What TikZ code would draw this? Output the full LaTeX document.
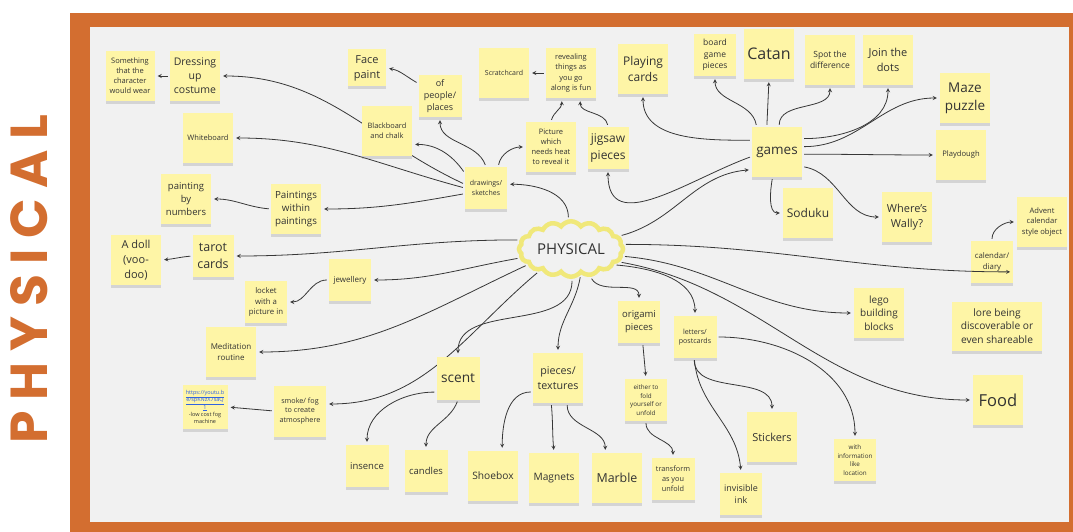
\documentclass[tikz,border=0pt]{standalone}
\usepackage{fontspec}
\setmainfont{Open Sans}
\newfontfamily\titlefont{Poppins}[LetterSpace=20]
\usepackage{tikz}
\usetikzlibrary{shapes.symbols, shadows, arrows}
\definecolor{notecol}{RGB}{254,245,166}
\definecolor{bgcol}{RGB}{241,241,241}
\definecolor{framecol}{RGB}{211,110,48}
\definecolor{cloudcol}{RGB}{240,232,122}
\definecolor{linecol}{RGB}{55,55,55}
\definecolor{linkcol}{RGB}{50,100,225}
\newcommand{\fs}[1]{\fontsize{#1}{1.35\dimexpr#1pt\relax}\selectfont}
\tikzstyle{arrow} = [->, >=stealth, line width=0.8pt, draw=linecol, shorten >=3pt, shorten <=2pt]
\tikzstyle{note} = [rectangle, fill=notecol, text=black!80, align=center, inner sep=1pt, minimum width=50pt, minimum height=50pt, drop shadow={shadow xshift=0pt, shadow yshift=-3pt, opacity=0.25}]
\tikzstyle{sticky} = [note, minimum width=42pt, minimum height=42pt]
\tikzstyle{hub} = [cloud, cloud puffs=16, cloud puff arc=110, aspect=2.2, draw=cloudcol, line width=4.5pt, fill=bgcol, text=black!80, inner sep=2pt, minimum width=98pt, minimum height=44pt]

\begin{document}
\begin{tikzpicture}[x=1pt, y=1pt]
		\useasboundingbox (0,0) rectangle (1073,-532);
		\fill [framecol] (70,-13) rectangle (1073,-532);
		\fill [bgcol] (90,-27) rectangle (1069,-522);
		\node (title) [rotate=90, text=framecol, font=\titlefont\bfseries\fontsize{52}{52}\selectfont] at (29,-279) {PHYSICAL};

		\node (physical) [hub, font=\fs{15}] at (571,-249) {PHYSICAL};

		\node (drawings) [sticky, font=\fs{7}] at (486,-188) {drawings/\\sketches};
		\draw [arrow] (physical.95) to [out=90, in=0] (drawings.10);
		\node (costume) [note, font=\fs{10.5}] at (195,-76) {Dressing\\up\\costume};
		\node (wear) [note, minimum width=49pt, font=\fs{7.5}] at (130,-76) {Something\\that the\\character\\would wear};
		\draw [arrow] (drawings.170) to [out=155, in=0] (costume.east);
		\draw [arrow] (costume.west) -- (wear.east);
		\node (whiteboard) [note, font=\fs{7.5}] at (208,-138) {Whiteboard};
		\draw [arrow] (drawings.180) to [out=165, in=0] (whiteboard.east);
		\node (paintings) [note, font=\fs{9.8}] at (296,-209) {Paintings\\within\\paintings};
		\node (numbers) [note, font=\fs{9.5}] at (186,-199) {painting\\by\\numbers};
		\draw [arrow] (drawings.195) to [out=190, in=0] (paintings.east);
		\draw [arrow] (paintings.west) to [out=175, in=0] (numbers.east);
		\node (blackboard) [note, font=\fs{7.4}] at (387,-131) {Blackboard\\and chalk};
		\draw [arrow] (drawings.145) to [out=125, in=0] (blackboard.-28);
		\node (people) [sticky, minimum width=43pt, font=\fs{9}] at (440,-96) {of\\people/\\places};
		\node (facepaint) [note, minimum width=38pt, minimum height=37pt, font=\fs{11}] at (367,-68) {Face\\paint};
		\draw [arrow] (drawings.north) to [out=110, in=-90] (people.south);
		\draw [arrow] (people.150) to [out=150, in=-10] (facepaint.east);
		\node (heat) [note, font=\fs{7.5}] at (551,-147) {Picture\\which\\needs heat\\to reveal it};
		\node (reveal) [note, font=\fs{7.5}] at (571,-73) {revealing\\things as\\you go\\along is fun};
		\node (scratch) [note, font=\fs{7}] at (504,-73) {Scratchcard};
		\draw [arrow] (drawings.60) to [out=80, in=180] (heat.west);
		\draw [arrow] (heat.north) to [out=75, in=-90] (reveal.250);
		\draw [arrow] (reveal.west) -- (scratch.east);

		\node (games) [note, font=\fs{13.5}] at (777,-152) {games};
		\draw [arrow] (physical.15) to [out=15, in=185] (games.215);
		\node (jigsaw) [sticky, minimum width=41pt, font=\fs{12}] at (608,-148) {jigsaw\\pieces};
		\draw [arrow] (games.190) to [out=200, in=-90, looseness=1.2] (jigsaw.south);
		\draw [arrow] (jigsaw.north) to [out=100, in=-90] (reveal.290);
		\node (playing) [note, font=\fs{12}] at (643,-69) {Playing\\cards};
		\draw [arrow] (games.155) to [out=180, in=-90] (playing.south);
		\node (board) [sticky, font=\fs{8.5}] at (715,-55) {board\\game\\pieces};
		\draw [arrow] (games.129) to [out=100, in=-90] (board.south);
		\node (catan) [note, font=\fs{16}] at (769,-54) {Catan};
		\draw [arrow] (games.112) -- (catan.south);
		\node (spot) [note, font=\fs{8.5}] at (830,-60) {Spot the\\difference};
		\draw [arrow] (games.85) to [out=90, in=-90] (spot.south);
		\node (dots) [note, font=\fs{11}] at (888,-60) {Join the\\dots};
		\draw [arrow] (games.28) to [out=0, in=-90] (dots.south);
		\node (maze) [note, font=\fs{13.5}] at (965,-98) {Maze\\puzzle};
		\draw [arrow] (games.12) to [out=0, in=180] (maze.west);
		\node (playdough) [note, font=\fs{7.6}] at (961,-155) {Playdough};
		\draw [arrow] (games.-5) to [out=0, in=180] (playdough.west);
		\node (wally) [note, font=\fs{11}] at (907,-217) {Where's\\Wally?};
		\draw [arrow] (games.-30) to [out=-10, in=180] (wally.west);
		\node (soduku) [note, font=\fs{12}] at (808,-213) {Soduku};
		\draw [arrow] (games.-100) to [out=-100, in=180] (soduku.west);

		\node (tarot) [sticky, minimum width=41pt, font=\fs{12.5}] at (213,-256) {tarot\\cards};
		\node (doll) [note, font=\fs{11}] at (136,-260) {A doll\\(voo-\\doo)};
		\draw [arrow] (physical.170) to [out=180, in=0] (tarot.east);
		\draw [arrow] (tarot.west) to [out=185, in=5] (doll.east);
		\node (jewellery) [sticky, font=\fs{8}] at (350,-280) {jewellery};
		\node (locket) [sticky, font=\fs{7.8}] at (266,-302) {locket\\with a\\picture in};
		\draw [arrow] (physical.190) to [out=190, in=0] (jewellery.east);
		\draw [arrow] (jewellery.west) to [out=180, in=0] (locket.east);
		\node (meditation) [note, font=\fs{8}] at (231,-352) {Meditation\\routine};
		\draw [arrow] (physical.200) to [out=205, in=0] (meditation.east);
		\node (smoke) [note, minimum width=52pt, minimum height=51pt, font=\fs{7.2}] at (300,-411) {smoke/ fog\\to create\\atmosphere};
		\node (link) [note, minimum width=45pt, minimum height=44pt, font=\fs{5.5}] at (205,-407) {\textcolor{linkcol}{\underline{https://youtu.b}}\\\textcolor{linkcol}{\underline{e/spKNzX7saQ}}\\\textcolor{linkcol}{\underline{1}}\\-low cost fog\\machine};
		\draw [arrow] (physical.215) to [out=220, in=0] (smoke.15);
		\draw [arrow] (smoke.west) to [out=175, in=-5] (link.east);

		\node (scent) [note, minimum width=43pt, minimum height=43pt, font=\fs{13.7}] at (458,-378) {scent};
		\node (insence) [sticky, minimum width=43pt, font=\fs{9.5}] at (367,-466) {insence};
		\node (candles) [sticky, minimum width=43pt, font=\fs{9.5}] at (426,-471) {candles};
		\draw [arrow] (physical.-88) to [out=-90, in=90] (scent.north);
		\draw [arrow] (scent.213) to [out=180, in=90] (insence.north);
		\draw [arrow] (scent.south) to [out=-110, in=90] (candles.north);
		\node (textures) [note, font=\fs{10.7}] at (558,-378) {pieces/\\textures};
		\node (shoebox) [note, font=\fs{10.2}] at (493,-476) {Shoebox};
		\node (magnets) [note, font=\fs{10.2}] at (554,-478) {Magnets};
		\node (marble) [note, font=\fs{12.4}] at (617,-478) {Marble};
		\draw [arrow] (physical.-70) to [out=-100, in=90] (textures.north);
		\draw [arrow] (textures.209) to [out=180, in=90] (shoebox.70);
		\draw [arrow] (textures.-105) to [out=-85, in=95] (magnets.north);
		\draw [arrow] (textures.-70) to [out=-90, in=90] (marble.115);
		\node (origami) [sticky, font=\fs{9.5}] at (639,-322) {origami\\pieces};
		\node (fold) [sticky, font=\fs{6.3}] at (646,-400) {either to\\fold\\yourself or\\unfold};
		\node (transform) [sticky, minimum width=43pt, font=\fs{7.3}] at (673,-479) {transform\\as you\\unfold};
		\draw [arrow] (physical.-55) to [out=-60, in=90] (origami.north);
		\draw [arrow] (origami.-80) -- (fold.north);
		\draw [arrow] (fold.south) to [out=-90, in=90] (transform.north);

		\node (letters) [sticky, minimum width=43pt, font=\fs{7.1}] at (695,-337) {letters/\\postcards};
		\node (ink) [sticky, font=\fs{9}] at (741,-494) {invisible\\ink};
		\node (stickers) [note, font=\fs{11}] at (772,-437) {Stickers};
		\node (info) [sticky, font=\fs{6.3}] at (855,-460) {with\\information\\like\\location};
		\draw [arrow] (physical.-20) to [out=-5, in=90] (letters.north);
		\draw [arrow] (letters.-92) to [out=-85, in=95] (ink.north);
		\draw [arrow] (letters.-92) to [out=-90, in=90] (stickers.north);
		\draw [arrow] (letters.east) to [out=0, in=90] (info.north);
		\node (lego) [note, font=\fs{10}] at (879,-313) {lego\\building\\blocks};
		\draw [arrow] (physical.-8) to [out=-5, in=180] (lego.west);
		\node (calendar) [sticky, font=\fs{7.8}] at (992,-262) {calendar/\\diary};
		\node (advent) [note, font=\fs{7.6}] at (1042,-222) {Advent\\calendar\\style object};
		\draw [arrow] (physical.5) to [out=0, in=180] (calendar.-25);
		\draw [arrow] (calendar.north) to [out=90, in=180] (advent.west);
		\node (lore) [note, minimum width=90pt, minimum height=49pt, font=\fs{10.2}] at (997,-326) {lore being\\discoverable or\\even shareable};
		\node (food) [note, font=\fs{16.5}] at (998,-400) {Food};
		\draw [arrow] (physical.-15) to [out=-10, in=180] (food.west);
\end{tikzpicture}
\end{document}
